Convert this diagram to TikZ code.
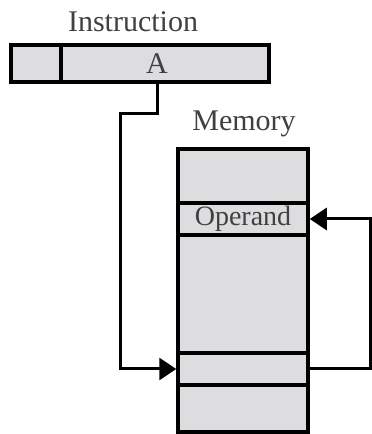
\documentclass[tikz,border=0pt]{standalone}
\usepackage{fontspec}
\setmainfont{Liberation Serif}
\definecolor{cellgray}{RGB}{221, 221, 223}
\usetikzlibrary{arrows.meta, positioning}

\begin{document}
\begin{tikzpicture}[x=1pt, y=1pt,
  field/.style={draw=black, fill=cellgray, line width=3.5pt, minimum height=37pt, inner sep=0pt},
  cell/.style={draw=black, fill=cellgray, line width=3.5pt, minimum width=130pt, inner sep=0pt, font=\fontsize{28}{28}\selectfont, text=black!75},
  caption/.style={font=\fontsize{30}{30}\selectfont, text=black!75},
  link/.style={line width=3pt, -{Triangle[length=17pt, width=22pt]}}
]
  \useasboundingbox (0,0) rectangle (372,434);
  \node[field, minimum width=50pt] (opfield) at (36, 370.5) {};
  \node[field, minimum width=208pt] (addrfield) at (165, 370.5) {};
  \node[caption] (addr) at (157, 370.5) {A};
  \node[caption] (instr) at (133, 412) {Instruction};

  \node[cell, minimum height=54pt] (cella) at (243, 258) {};
  \node[cell, minimum height=32pt] (operand) at (243, 215) {Operand};
  \node[cell, minimum height=118pt] (cellb) at (243, 140) {};
  \node[cell, minimum height=32pt] (target) at (243, 65) {};
  \node[cell, minimum height=47pt] (cellc) at (243, 25.5) {};
  \node[caption] (mem) at (244, 310) {Memory};

  \draw[link] (addr |- addrfield.south) -- ++(0,-30) -| (120, 100) |- (target.west);
  \draw[link] (target.east) -- ++(61,0) |- (operand.east);
\end{tikzpicture}
\end{document}
